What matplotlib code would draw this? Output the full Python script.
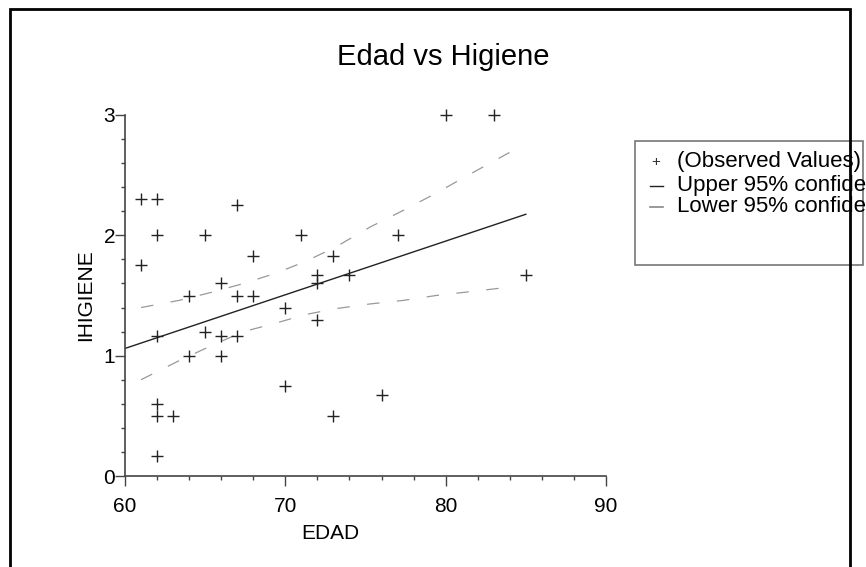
import numpy as np
import matplotlib.pyplot as plt
from matplotlib.patches import Rectangle
from matplotlib.ticker import MultipleLocator

plt.rcParams['font.family'] = ['Liberation Sans', 'DejaVu Sans']

# observed values (EDAD, IHIGIENE)
edad = [61, 62, 67, 62, 65, 71, 77, 61, 68, 73, 72, 74, 85, 72, 66, 64, 67, 68,
        70, 72, 65, 62, 66, 67, 64, 66, 70, 76, 62, 62, 63, 73, 62, 80, 83]
higiene = [2.3, 2.3, 2.25, 2.0, 2.0, 2.0, 2.0, 1.75, 1.83, 1.83, 1.67, 1.67, 1.67,
           1.6, 1.6, 1.5, 1.5, 1.5, 1.4, 1.3, 1.2, 1.16, 1.16, 1.16, 1.0, 1.0,
           0.75, 0.67, 0.6, 0.5, 0.5, 0.5, 0.17, 3.0, 3.0]

# fitted line
fit_x = [60, 85]
fit_y = [1.06, 2.175]

# 95% confidence limits
band_x = [61, 63.4, 65.5, 67.4, 69.4, 71.2, 73.1, 75.3, 77.4, 79.4, 81.4, 84]
upper = [1.40, 1.46, 1.53, 1.60, 1.685, 1.78, 1.90, 2.07, 2.21, 2.35, 2.50, 2.69]
lower = [0.80, 0.96, 1.09, 1.20, 1.27, 1.34, 1.39, 1.43, 1.46, 1.50, 1.53, 1.57]

W, H = 866, 567
fig = plt.figure(figsize=(W / 100, H / 100), dpi=100)
ax = fig.add_axes([125 / W, 1 - 476 / H, 481 / W, 361 / H])

ax.plot(band_x, upper, color="#999999", lw=0.9, linestyle=(0, (10, 14)))
ax.plot(band_x, lower, color="#999999", lw=0.9, linestyle=(0, (10, 14)))
ax.plot(fit_x, fit_y, color="#222222", lw=1)
ax.plot(edad, higiene, linestyle="none", marker="+", markersize=9,
        markeredgewidth=1, color="#222222", clip_on=False)

ax.set_xlim(60, 90)
ax.set_ylim(0, 3)
ax.xaxis.set_major_locator(MultipleLocator(10))
ax.xaxis.set_minor_locator(MultipleLocator(2))
ax.yaxis.set_major_locator(MultipleLocator(1))
ax.yaxis.set_minor_locator(MultipleLocator(0.2))

for s in ["top", "right"]:
    ax.spines[s].set_visible(False)
for s in ["left", "bottom"]:
    ax.spines[s].set_color("#444444")
    ax.spines[s].set_linewidth(1.2)

ax.tick_params(which="major", length=7, width=1, color="#444444", labelsize=15)
ax.tick_params(which="minor", length=3, width=1, color="#444444")
ax.tick_params(axis="x", which="major", pad=8)
ax.tick_params(axis="y", which="major", pad=0)

ax.set_xlabel("EDAD", fontsize=15, labelpad=6)
ax.xaxis.label.set_x(0.426)
ax.set_ylabel("IHIGIENE", fontsize=15, labelpad=6)

fig.text(443 / W, 1 - 57 / H, "Edad vs Higiene", fontsize=21,
         ha="center", va="center")

# legend box
fig.patches.append(Rectangle((635 / W, 1 - 265 / H), 228 / W, 124 / H,
                             transform=fig.transFigure, fill=False,
                             edgecolor="#777777", lw=1.2))
rows = [162, 186, 207]
labels = ["(Observed Values)", "Upper 95% confidence limits",
          "Lower 95% confidence limits"]
fig.text(656 / W, 1 - rows[0] / H, "+", fontsize=11, ha="center", va="center",
         color="#333333")
fig.add_artist(plt.Line2D([650 / W, 663 / W], [1 - rows[1] / H] * 2,
                          color="#222222", lw=1))
fig.add_artist(plt.Line2D([650 / W, 663 / W], [1 - rows[2] / H] * 2,
                          color="#888888", lw=1.2))
for r, lab in zip(rows, labels):
    fig.text(677 / W, 1 - r / H, lab, fontsize=16, ha="left", va="center")

# outer frame
fig.patches.append(Rectangle((10 / W, -0.1), 840 / W, 1.1 - 9 / H,
                             transform=fig.transFigure, fill=False,
                             edgecolor="black", lw=2, zorder=10))

fig.savefig("out.png", dpi=100)
